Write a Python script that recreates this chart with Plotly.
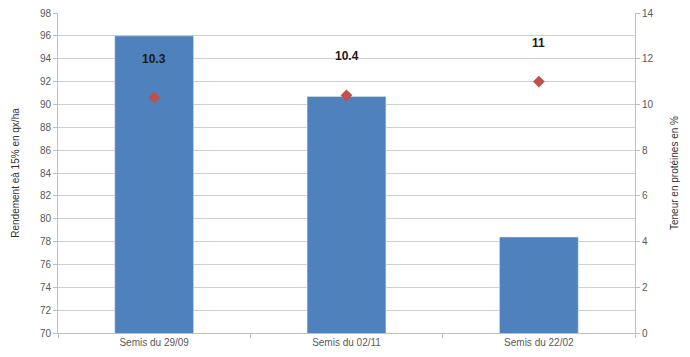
import plotly.graph_objects as go

categories = ["Semis du 29/09", "Semis du 02/11", "Semis du 22/02"]
rendement = [96.0, 90.7, 78.4]
proteines = [10.3, 10.4, 11.0]
proteine_labels = ["10.3", "10.4", "11"]

fig = go.Figure()
fig.add_trace(go.Bar(x=categories, y=rendement, marker_color="#4F81BD",
                     width=0.41, yaxis="y", showlegend=False))
fig.add_trace(go.Scatter(x=categories, y=proteines, mode="markers",
                         marker=dict(symbol="diamond", size=9, color="#C0504D"),
                         yaxis="y2", showlegend=False))

for c, v, t in zip(categories, proteines, proteine_labels):
    fig.add_annotation(x=c, y=v, xref="x", yref="y2", text="<b>%s</b>" % t,
                       showarrow=False, yshift=39,
                       font=dict(family="Liberation Sans, Arial", size=12, color="#1a1a1a"))

tickfont = dict(family="Liberation Sans, Arial", size=10, color="#595959")
titlefont = dict(family="Liberation Sans, Arial", size=10, color="#333333")
# page body has an 8px default margin, so the figure is drawn 8px smaller
fig.update_layout(
    width=682, height=349,
    margin=dict(l=50, r=55, t=5, b=24, autoexpand=False),
    paper_bgcolor="white", plot_bgcolor="white",
    xaxis=dict(type="category", tickfont=tickfont, showgrid=False, automargin=False,
               ticks="outside", tickson="boundaries", ticklen=4, tickcolor="#BFBFBF",
               showline=True, linecolor="#BFBFBF", linewidth=1),
    yaxis=dict(range=[70, 98], dtick=2, tickfont=tickfont, showgrid=True, automargin=False,
               ticklabeloverflow="allow",
               gridcolor="#CFCFCF", gridwidth=1, zeroline=False,
               showline=True, linecolor="#BFBFBF", ticks="outside", ticklen=4,
               tickcolor="#BFBFBF",
               title=dict(text="Rendement eà 15% en qx/ha", standoff=18, font=titlefont)),
    yaxis2=dict(range=[0, 14], dtick=2, overlaying="y", side="right", automargin=False,
                ticklabeloverflow="allow",
                tickfont=tickfont, showgrid=False, zeroline=False,
                showline=True, linecolor="#BFBFBF", ticks="outside", ticklen=4,
                tickcolor="#BFBFBF",
                title=dict(text="Teneur en protéines en %", standoff=18, font=titlefont)),
)
fig.write_html("out.html")
